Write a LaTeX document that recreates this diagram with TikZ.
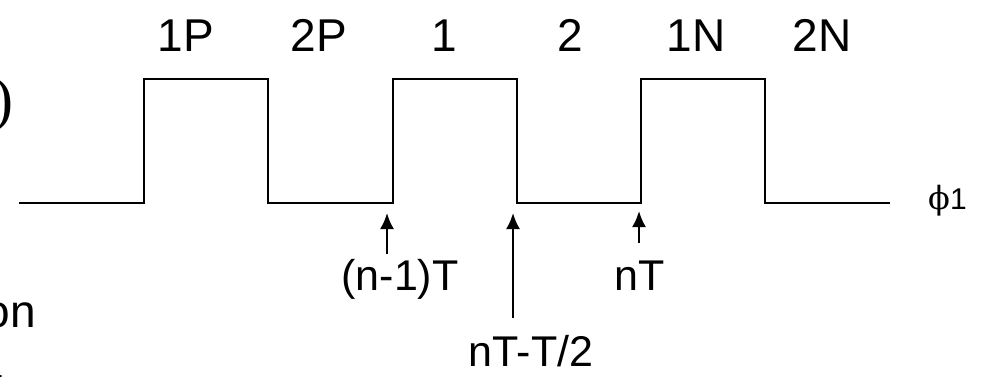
\documentclass[tikz,border=0pt]{standalone}
\usepackage{fontspec}
\setmainfont{Liberation Sans}
\newfontfamily\serifface{Liberation Serif}
\newfontfamily\greekface{DejaVu Serif}
\usetikzlibrary{arrows.meta}
\begin{document}
\begin{tikzpicture}[x=1pt,y=-1pt,
  wave/.style={line width=2.7pt, line join=miter},
  marker/.style={line width=2.2pt, -{Latex[length=16pt,width=14pt]}},
  phase/.style={font=\fontsize{46}{46}\selectfont, inner sep=0pt, anchor=base},
  timelabel/.style={font=\fontsize{43}{43}\selectfont, inner sep=0pt, anchor=base}]
\useasboundingbox (0,0) rectangle (981,376);
\clip (0,0) rectangle (981,376);

% clock phase phi1
\draw[wave] (19,203) -- (144,203) -- (144,79) -- (268,79) -- (268,203)
  -- (393,203) -- (393,79) -- (517,79) -- (517,203)
  -- (641,203) -- (641,79) -- (765,79) -- (765,203) -- (890,203);

% phase names
\node[phase] (p1P) at (186,51) {1P};
\node[phase] (p2P) at (319,51) {2P};
\node[phase] (p1)  at (444,51) {1};
\node[phase] (p2)  at (570,51) {2};
\node[phase] (p1N) at (696,51) {1N};
\node[phase] (p2N) at (822,51) {2N};

% signal name
\node[inner sep=0pt, anchor=base west] (sig) at (928,209)
  {{\greekface\fontsize{32}{32}\selectfont ϕ}{\fontsize{30}{30}\selectfont 1}};

% time instants
\coordinate (t0tip) at (387,213);
\coordinate (t0tail) at (387,254);
\coordinate (thtip) at (513,213);
\coordinate (thtail) at (513,318);
\coordinate (t1tip) at (639,211);
\coordinate (t1tail) at (639,243);
\draw[marker] (t0tail) -- (t0tip);
\draw[marker] (thtail) -- (thtip);
\draw[marker] (t1tail) -- (t1tip);

\node[timelabel] (l0) at (400,290) {(n-1)T};
\node[timelabel] (lh) at (531,366) {nT-T/2};
\node[timelabel] (l1) at (640,290) {nT};

% pieces of neighbouring text cut by the frame
\node[inner sep=0pt, anchor=base east, font=\serifface\fontsize{60}{60}\selectfont] (paren) at (14,119) {)};
\node[inner sep=0pt, anchor=base east, font=\fontsize{46}{46}\selectfont] (frag) at (36,327) {on};
\node[inner sep=0pt, anchor=base east, font=\fontsize{46}{46}\selectfont] (dot) at (6,380) {.};
\end{tikzpicture}
\end{document}
